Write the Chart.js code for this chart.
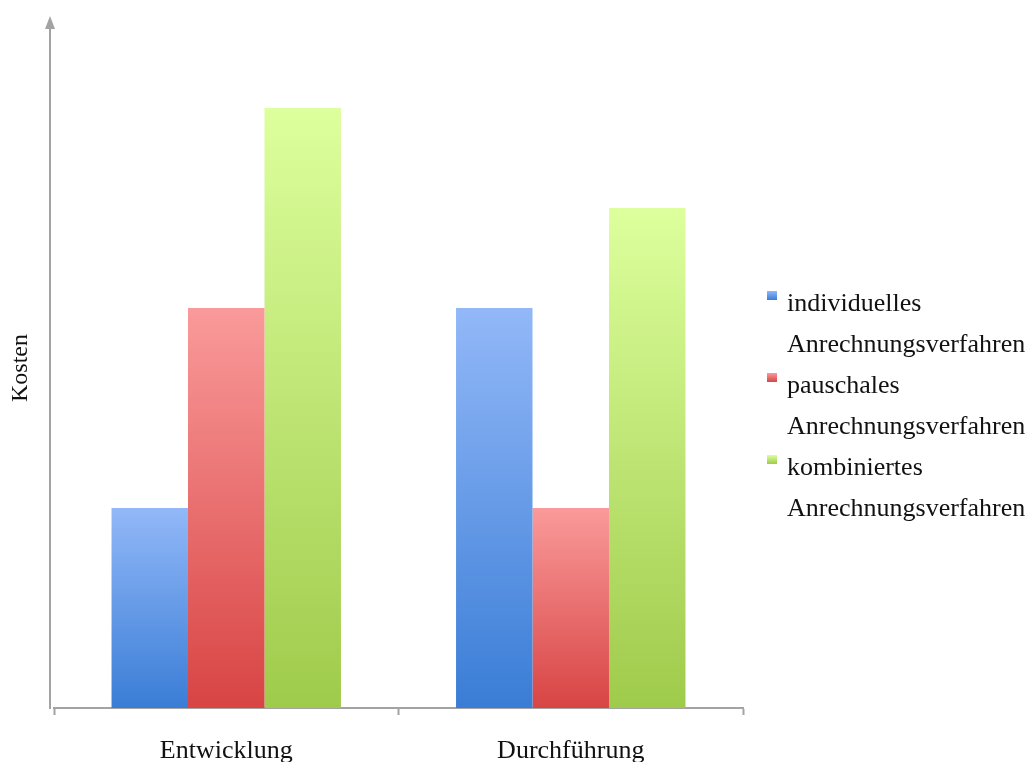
<!DOCTYPE html>
<html>
<head>
<meta charset="utf-8">
<script src="https://cdn.jsdelivr.net/npm/chart.js@4"></script>
<style>
  html, body { margin: 0; padding: 0; background: #ffffff; }
  canvas { display: block; }
</style>
</head>
<body>
<canvas id="chart" width="1031" height="762"></canvas>
<script>
// Categories on the x axis
const categories = ['Entwicklung', 'Durchführung'];

// Series names (two lines each, as shown in the legend)
const seriesNames = [
  ['individuelles', 'Anrechnungsverfahren'],
  ['pauschales', 'Anrechnungsverfahren'],
  ['kombiniertes', 'Anrechnungsverfahren']
];

// Relative cost values per series
const individuelles = [1, 2];
const pauschales = [2, 1];
const kombiniertes = [3, 2.5];

const yAxisTitle = 'Kosten';

// Top and bottom colour of each bar's vertical gradient
const gradientStops = [
  ['#92b8f8', '#3a7dd6'],
  ['#fa9a9a', '#d84444'],
  ['#ddff9d', '#9fcb4b']
];

const SERIF = "'Liberation Serif', 'Times New Roman', serif";
const AXIS_GREY = '#a3a3a3';

function barGradient(ctx, stops) {
  const chart = ctx.chart;
  if (!chart.chartArea || ctx.type !== 'data') return stops[1];
  const y = chart.scales.y;
  const top = y.getPixelForValue(ctx.raw);
  const base = y.getPixelForValue(0);
  const g = chart.ctx.createLinearGradient(0, top, 0, base);
  g.addColorStop(0, stops[0]);
  g.addColorStop(1, stops[1]);
  return g;
}

// Y axis line with arrow head, and the multi-line legend on the right
const decorations = {
  id: 'decorations',
  afterDraw(chart) {
    const { ctx, chartArea } = chart;
    const ax = chartArea.left - 4;
    ctx.save();
    ctx.strokeStyle = AXIS_GREY;
    ctx.fillStyle = AXIS_GREY;
    ctx.lineWidth = 2;
    ctx.beginPath();
    ctx.moveTo(ax, chartArea.bottom + 1);
    ctx.lineTo(ax, chartArea.top);
    ctx.stroke();
    ctx.beginPath();
    ctx.moveTo(ax, chartArea.top - 12);
    ctx.lineTo(ax - 5, chartArea.top + 1);
    ctx.lineTo(ax + 5, chartArea.top + 1);
    ctx.closePath();
    ctx.fill();

    // Legend
    const lx = 767, tx = 787, firstBaseline = 311, lineGap = 41;
    ctx.font = '26px ' + SERIF;
    ctx.textBaseline = 'alphabetic';
    ctx.textAlign = 'left';
    let line = 0;
    chart.data.datasets.forEach((ds, i) => {
      const baseline = firstBaseline + line * lineGap;
      const stops = gradientStops[i];
      const g = ctx.createLinearGradient(0, baseline - 20, 0, baseline - 11);
      g.addColorStop(0, stops[0]);
      g.addColorStop(1, stops[1]);
      ctx.fillStyle = g;
      ctx.fillRect(lx, baseline - 20, 10, 9);
      ctx.fillStyle = '#111111';
      ds.label.forEach((t, k) => {
        ctx.fillText(t, tx, baseline + k * lineGap);
      });
      line += ds.label.length;
    });
    ctx.restore();
  }
};

const seriesData = [individuelles, pauschales, kombiniertes];

new Chart(document.getElementById('chart'), {
  type: 'bar',
  data: {
    labels: categories,
    datasets: seriesData.map((values, i) => ({
      label: seriesNames[i],
      data: values,
      backgroundColor: (ctx) => barGradient(ctx, gradientStops[i]),
      borderWidth: 0,
      categoryPercentage: 0.666,
      barPercentage: 1.0
    }))
  },
  options: {
    responsive: false,
    animation: false,
    layout: { padding: { top: 28, right: 288, left: 0, bottom: 0 } },
    plugins: {
      legend: { display: false },
      tooltip: { enabled: false }
    },
    scales: {
      x: {
        grid: {
          drawOnChartArea: false,
          drawTicks: true,
          tickLength: 7,
          tickColor: AXIS_GREY,
          tickWidth: 2,
          offset: true
        },
        border: { display: true, color: AXIS_GREY, width: 2 },
        ticks: {
          font: { family: SERIF, size: 26 },
          color: '#111111',
          padding: 21
        },
        afterFit(scale) { scale.height = 54; }
      },
      y: {
        min: 0,
        max: 3.4,
        grid: { display: false },
        border: { display: false },
        ticks: { display: false },
        title: {
          display: true,
          text: yAxisTitle,
          font: { family: SERIF, size: 24 },
          color: '#111111',
          padding: { top: 6, bottom: 0 }
        },
        afterFit(scale) { scale.width = 54; }
      }
    }
  },
  plugins: [decorations]
});
</script>
</body>
</html>
